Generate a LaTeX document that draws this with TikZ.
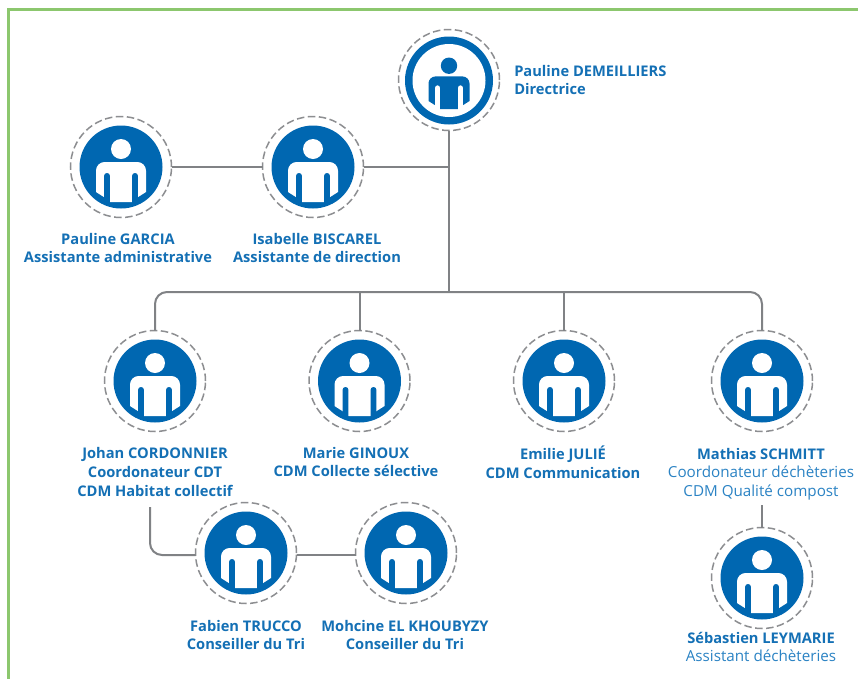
\documentclass[tikz,border=0pt]{standalone}
\usepackage{fontspec}
\setmainfont{Open Sans}
\definecolor{bluea}{HTML}{0067B1}
\definecolor{textb}{HTML}{1470B5}
\definecolor{textl}{HTML}{2B83C4}
\definecolor{linec}{HTML}{808285}
\definecolor{frame}{HTML}{8CC76E}
\tikzset{
  halo/.style={circle,draw=linec!90,line width=1.5*0.75pt,dash pattern=on 7.5*0.75pt off 3.5*0.75pt,minimum size=101*0.75pt,inner sep=0pt,outer sep=0pt},
  link/.style={draw=linec,line width=2*0.75pt,rounded corners=9pt},
  lab/.style={align=center,font=\fontsize{11pt}{14pt}\selectfont\bfseries,text=textb,inner sep=0pt},
}
\newcommand{\lite}[1]{{\fontsize{11.4pt}{14pt}\selectfont\mdseries\color{textl}#1}}
% silhouette, relative to the circle centre, in px; #3 and #4 are corner radii
\newcommand{\silhouette}[4]{%
  \fill[#1] (0,-18) circle (10);
  \fill[#1,rounded corners=#3] (-25,25) -- (-25,-5) -- (25,-5) [sharp corners] -- (25,25) -- (14,32) -- (11,35) -- (-11,35) -- (-14,32) -- cycle;
  \foreach \s in {-14,14}{
    \fill[#2,rounded corners=#4] (\s-2.9,37) [sharp corners] -- (\s-2.9,37) [rounded corners=#4] -- (\s-2.9,6) -- (\s+2.9,6) [sharp corners] -- (\s+2.9,37) -- cycle;
  }
}
\newcommand{\person}[2]{%
  \begin{scope}[shift={(#1,#2)}]
    \fill[bluea] (0,0) circle (41.5);
    \silhouette{white}{bluea}{6.5pt}{2.1pt}
  \end{scope}}
\begin{document}
\begin{tikzpicture}[x=0.75pt,y=-0.75pt]
\useasboundingbox (0,0) rectangle (858,679);
\fill[white] (0,0) rectangle (858,679);
\draw[frame,line width=3*0.75pt] (8.5,679) -- (8.5,9.5) -- (858,9.5);

\node[halo] (dem) at (449,80) {};
\node[halo] (gar) at (121,167) {};
\node[halo] (bis) at (313,167) {};
\node[halo] (cor) at (155,381) {};
\node[halo] (gin) at (359.5,381) {};
\node[halo] (jul) at (564,381) {};
\node[halo] (sch) at (762,381) {};
\node[halo] (tru) at (246,553) {};
\node[halo] (kho) at (406,553) {};
\node[halo] (ley) at (762,578) {};

\begin{scope}[shift={(449,80.5)}]
  \fill[bluea] (0,0) circle (44);
  \fill[white] (0,0) circle (36.5);
  \begin{scope}[x=0.615pt,y=-0.615pt]
  \silhouette{bluea}{white}{5.3pt}{1.7pt}
  \end{scope}
\end{scope}
\person{121}{167}\person{313}{167}\person{155}{381}\person{359.5}{381}\person{564}{381}\person{762}{381}\person{246}{553}\person{406}{553}\person{762}{578}

\coordinate (busL) at (155,292);
\coordinate (busR) at (762,292);
\coordinate (busA) at (359.5,292);
\coordinate (busB) at (564,292);
\coordinate (busC) at (449,292);
\coordinate (busD) at (449,167);
\coordinate (corS) at (150,507);
\coordinate (corT) at (150,555);
\coordinate (schS) at (762,505);

\draw[link] (gar.east) -- (bis.west);
\draw[link] (dem.south) -- (busC);
\draw[link] (bis.east) -- (busD);
\draw[link] (cor.north) -- (busL) -- (busR) -- (sch.north);
\draw[link] (busA) -- (gin.north);
\draw[link] (busB) -- (jul.north);
\draw[link] (corS) -- (corT) -- (tru.west|-corT);
\draw[link] (tru.east|-corT) -- (kho.west|-corT);
\draw[link] (schS) -- (ley.north);

\node[lab,anchor=west,align=left] (tdem) at (514,80) {Pauline DEMEILLIERS\\Directrice};
\node[lab] (tgar) at (118,248) {Pauline GARCIA\\Assistante administrative};
\node[lab] (tbis) at (317,248) {Isabelle BISCAREL\\Assistante de direction};
\node[lab] (tcor) at (155,472) {Johan CORDONNIER\\Coordonateur CDT\\CDM Habitat collectif};
\node[lab] (tgin) at (356,462) {Marie GINOUX\\CDM Collecte sélective};
\node[lab] (tjul) at (563,462) {Emilie JULIÉ\\CDM Communication};
\node[lab] (tsch) at (761,474) {Mathias SCHMITT\\\lite{Coordonateur déchèteries}\\\lite{CDM Qualité compost}};
\node[lab] (ttru) at (246,635) {Fabien TRUCCO\\Conseiller du Tri};
\node[lab] (tkho) at (405,635) {Mohcine EL KHOUBYZY\\Conseiller du Tri};
\node[lab] (tley) at (761,647) {Sébastien LEYMARIE\\\lite{Assistant déchèteries}};
\end{tikzpicture}
\end{document}
